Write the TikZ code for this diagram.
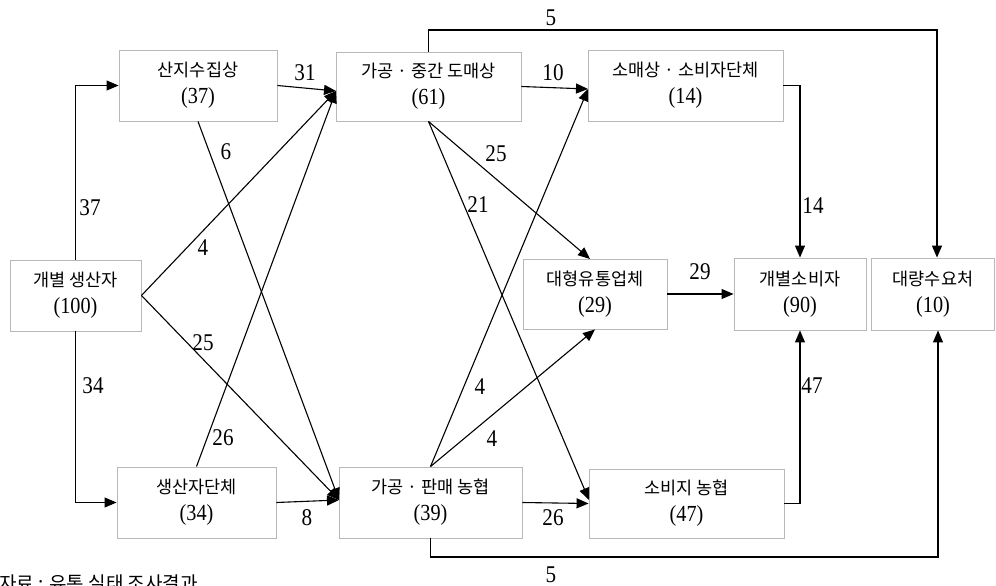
\documentclass[tikz,border=0pt]{standalone}
\usepackage{fontspec}
\usetikzlibrary{arrows.meta,calc}
\newfontfamily\kr{Noto Sans CJK KR}
\newfontfamily\nm[FakeStretch=0.88]{Liberation Serif}
\newcommand{\ktx}{\fontsize{17.5}{27}\selectfont\kr}
\newcommand{\ntx}{\fontsize{23}{27}\selectfont\nm}
\newcommand{\ltx}{\fontsize{24}{27}\selectfont\nm}
\begin{document}
\begin{tikzpicture}[x=1pt,y=-1pt,
  box/.style={draw=black!28,line width=0.9pt,fill=white,inner sep=0pt,align=center,font=\ktx},
  arr/.style={line width=1.1pt,-{Triangle[length=12pt,width=10pt]}},
  lbl/.style={font=\ltx,inner sep=0pt}]
\useasboundingbox (0,0) rectangle (996,586);

% boxes
\node[box,minimum width=131pt,minimum height=71pt] (prod) at (75.5,295.5) {개별 생산자\\{\ntx (100)}};
\node[box,minimum width=158pt,minimum height=71pt] (coll) at (198,85.5) {산지수집상\\{\ntx (37)}};
\node[box,minimum width=159pt,minimum height=71pt] (grp) at (196.5,502.5) {생산자단체\\{\ntx (34)}};
\node[box,minimum width=185pt,minimum height=69pt] (whol) at (428.5,86.5) {가공 · 중간 도매상\\{\ntx (61)}};
\node[box,minimum width=183pt,minimum height=71pt] (coop) at (430.5,502.5) {가공 · 판매 농협\\{\ntx (39)}};
\node[box,minimum width=195pt,minimum height=71pt] (ret) at (685.5,85.5) {소매상 · 소비자단체\\{\ntx (14)}};
\node[box,minimum width=144pt,minimum height=70pt] (big) at (595,294) {대형유통업체\\{\ntx (29)}};
\node[box,minimum width=132pt,minimum height=72pt] (cons) at (800,294) {개별소비자\\{\ntx (90)}};
\node[box,minimum width=123pt,minimum height=72pt] (bulk) at (933,294) {대량수요처\\{\ntx (10)}};
\node[box,minimum width=195pt,minimum height=69pt] (ccoop) at (686.5,503.5) {소비지 농협\\{\ntx (47)}};

% convergence points
\coordinate (win) at (336,91);
\coordinate (cin) at (339,500);
\coordinate (rin) at (588,89);
\coordinate (bin) at (590,259);
\coordinate (ccin) at (589,500);
\coordinate (topc) at (937,30);
\coordinate (botc) at (938,557);

% connectors
\draw[arr] (prod.north) |- (coll.west);
\draw[arr] (prod.south) |- (grp.west);
\draw[arr] (coll.east) -- (win);
\draw[arr] (prod.east) -- (win);
\draw[arr] (grp.north) -- (win);
\draw[arr] (prod.east) -- (cin);
\draw[arr] (coll.south) -- (cin);
\draw[arr] (grp.east) -- (cin);
\draw[arr] (whol.east) -- (rin);
\draw[arr] (whol.south) -- (bin);
\draw[arr] (whol.south) -- (ccin);
\draw[arr] (coop.north) -- (rin);
\draw[arr] (coop.north) -- (big.south);
\draw[arr] (coop.east) -- (ccoop.west);
\draw[arr] (big.east) -- (cons.west);
\draw[arr] (ret.east) -| (cons.north);
\draw[arr] (ccoop.east) -| (cons.south);
\draw[arr] (whol.north) |- (topc) -- (topc |- bulk.north);
\draw[arr] (coop.south) |- (botc) -- (botc |- bulk.south);

% labels
\node[lbl] (l37) at (90,208) {37};
\node[lbl] (l34) at (93,386) {34};
\node[lbl] (l31) at (305,73) {31};
\node[lbl] (l6) at (226,152) {6};
\node[lbl] (l4a) at (203,248) {4};
\node[lbl] (l25a) at (203,343) {25};
\node[lbl] (l26a) at (223,438) {26};
\node[lbl] (l8) at (307,518) {8};
\node[lbl] (l10) at (553,73) {10};
\node[lbl] (l25b) at (496,154) {25};
\node[lbl] (l21) at (478,205) {21};
\node[lbl] (l4b) at (480,387) {4};
\node[lbl] (l4c) at (492,439) {4};
\node[lbl] (l26b) at (553,518) {26};
\node[lbl] (l29) at (700,272) {29};
\node[lbl] (l14) at (813,206) {14};
\node[lbl] (l47) at (812,386) {47};
\node[lbl] (l5a) at (551,18) {5};
\node[lbl] (l5b) at (551,575) {5};

% caption (cut off at the bottom edge, as in the source)
\begin{scope}
\clip (0,0) rectangle (996,586);
\node[anchor=base west,inner sep=0pt,font=\fontsize{19}{22}\selectfont\kr] (cap) at (-1,590) {자료 : 유통 실태 조사결과};
\end{scope}
\end{tikzpicture}
\end{document}
